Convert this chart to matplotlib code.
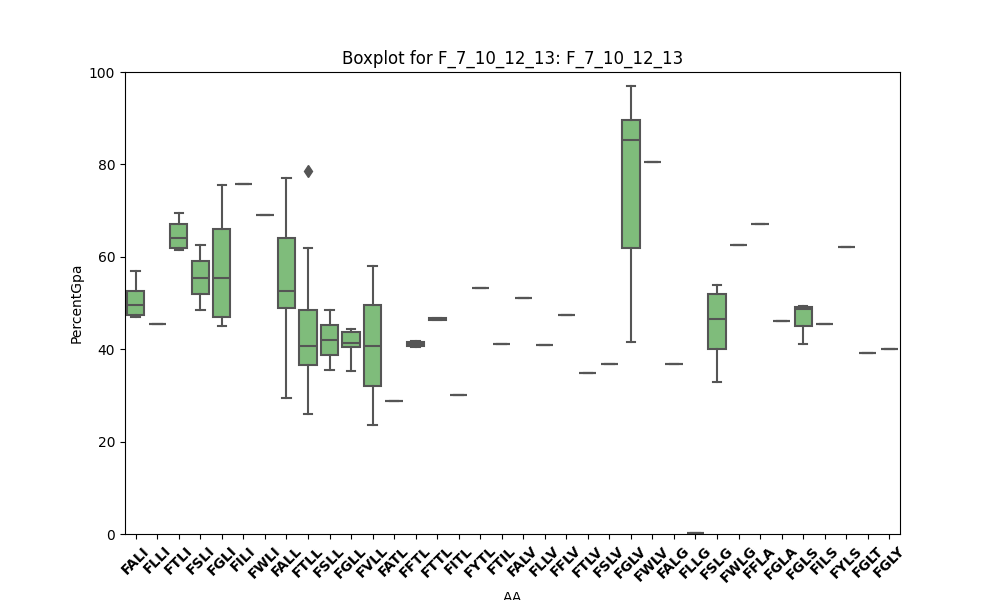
import matplotlib
matplotlib.use("Agg")
import matplotlib.pyplot as plt

categories = ["FALI", "FLLI", "FTLI", "FSLI", "FGLI", "FILI", "FWLI", "FALL", "FTLL",
              "FSLL", "FGLL", "FVLL", "FATL", "FFTL", "FTTL", "FITL", "FYTL", "FTIL",
              "FALV", "FLLV", "FFLV", "FTLV", "FSLV", "FGLV", "FWLV", "FALG", "FLLG",
              "FSLG", "FWLG", "FFLA", "FGLA", "FGLS", "FILS", "FYLS", "FGLT", "FGLY"]
# whisker low, q1, median, q3, whisker high
whislo = [47, 45.5, 61.5, 48.5, 45, 75.8, 69, 29.5, 26, 35.5, 35.3, 23.5, 28.7, 40.5, 46.3, 30,
          53.3, 41.2, 51, 41, 47.5, 34.8, 36.7, 41.5, 80.5, 36.7, 0.2, 32.8, 62.5, 67, 46, 41.2,
          45.5, 62.2, 39.2, 40]
q1 = [47.5, 45.5, 61.8, 52, 47, 75.8, 69, 49, 36.5, 38.8, 40.5, 32, 28.7, 40.8, 46.4, 30,
      53.3, 41.2, 51, 41, 47.5, 34.8, 36.7, 61.8, 80.5, 36.7, 0.2, 40, 62.5, 67, 46, 45,
      45.5, 62.2, 39.2, 40]
med = [49.5, 45.5, 64, 55.5, 55.5, 75.8, 69, 52.5, 40.8, 42, 41.3, 40.8, 28.7, 41.2, 46.5, 30,
       53.3, 41.2, 51, 41, 47.5, 34.8, 36.7, 85.3, 80.5, 36.7, 0.2, 46.5, 62.5, 67, 46, 48.7,
       45.5, 62.2, 39.2, 40]
q3 = [52.5, 45.5, 67, 59, 66, 75.8, 69, 64, 48.5, 45.3, 43.7, 49.5, 28.7, 41.6, 46.7, 30,
      53.3, 41.2, 51, 41, 47.5, 34.8, 36.7, 89.7, 80.5, 36.7, 0.2, 52, 62.5, 67, 46, 49.2,
      45.5, 62.2, 39.2, 40]
whishi = [57, 45.5, 69.5, 62.5, 75.5, 75.8, 69, 77, 62, 48.5, 44.3, 58, 28.7, 41.8, 46.8, 30,
          53.3, 41.2, 51, 41, 47.5, 34.8, 36.7, 97, 80.5, 36.7, 0.2, 54, 62.5, 67, 46, 49.4,
          45.5, 62.2, 39.2, 40]
fliers = {"FTLL": [78.5]}

stats = []
for i, c in enumerate(categories):
    stats.append(dict(label=c, whislo=whislo[i], q1=q1[i], med=med[i], q3=q3[i],
                      whishi=whishi[i], fliers=fliers.get(c, [])))

fig, ax = plt.subplots(figsize=(10, 6), dpi=100)
grey = "#555555"
ax.bxp(stats, positions=range(len(categories)), widths=0.8, patch_artist=True,
       boxprops=dict(facecolor="#7fbc7b", edgecolor=grey, linewidth=1.5),
       medianprops=dict(color=grey, linewidth=1.5),
       whiskerprops=dict(color=grey, linewidth=1.5),
       capprops=dict(color=grey, linewidth=1.5),
       flierprops=dict(marker="d", markerfacecolor=grey, markeredgecolor=grey, markersize=6))
ax.set_xlim(-0.5, len(categories) - 0.5)
ax.set_ylim(0, 100)
ax.set_xticks(range(len(categories)))
ax.set_xticklabels(categories, rotation=45, fontweight="bold", fontsize=10)
ax.set_xlabel("AA")
ax.set_ylabel("PercentGpa")
ax.set_title("Boxplot for F_7_10_12_13: F_7_10_12_13")
fig.savefig("out.png")
